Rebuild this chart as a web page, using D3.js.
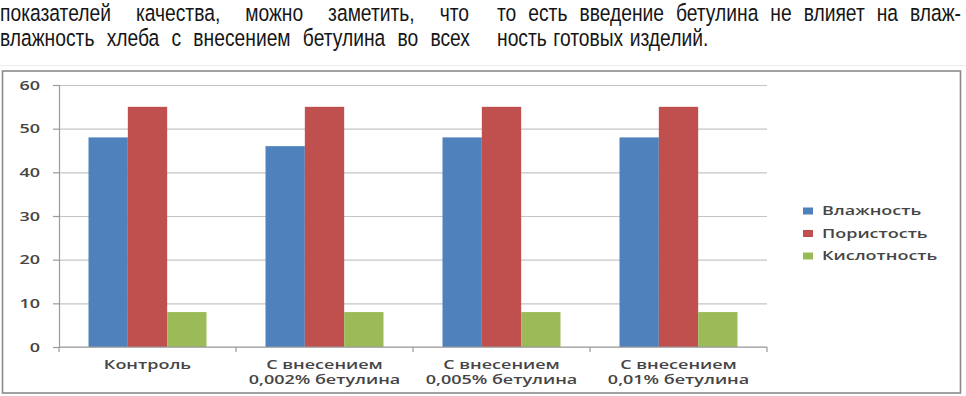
<!DOCTYPE html>
<html lang="ru">
<head>
<meta charset="UTF-8">
<title>Бетулин</title>
<script src="https://d3js.org/d3.v7.min.js"></script>
<style>
  body { margin: 0; background: #fff; }
  svg { display: block; }
</style>
</head>
<body>
<script>
// page text above the chart (two justified columns)
const leftLines = ["показателей качества, можно заметить, что", "влажность хлеба с внесением бетулина во всех"];
const rightLines = ["то есть введение бетулина не влияет на влаж-", "ность готовых изделий."];

// chart data
const categories = [["Контроль"], ["С внесением", "0,002% бетулина"], ["С внесением", "0,005% бетулина"], ["С внесением", "0,01% бетулина"]];
const seriesNames = ["Влажность", "Пористость", "Кислотность"];
const vlazhnost = [48, 46, 48, 48];
const poristost = [55, 55, 55, 55];
const kislotnost = [8, 8, 8, 8];
const yTicks = [0, 10, 20, 30, 40, 50, 60];
const colors = ["#4f81bd", "#c0504d", "#9bbb59"];

const W = 966, H = 396;
const svg = d3.select("body").append("svg").attr("width", W).attr("height", H);

// ---- top text ----
const sxText = 0.82;
const txt = svg.append("g").attr("transform", `scale(${sxText},1)`)
  .style("font-family", "'Liberation Sans', Arial, sans-serif")
  .style("font-size", "23.5px").style("fill", "#161616");

function putLine(words, x0, x1, baseline, justify) {
  const ws = words.split(" ");
  const nodes = ws.map(w => txt.append("text").attr("y", baseline).text(w));
  const widths = nodes.map(n => n.node().getComputedTextLength());
  const total = d3.sum(widths);
  const span = (x1 - x0) / sxText;
  let gap = justify ? (span - total) / (ws.length - 1) : 6.5 / sxText;
  let xx = x0 / sxText;
  nodes.forEach((n, i) => { n.attr("x", xx); xx += widths[i] + gap; });
}
putLine(leftLines[0], 0, 469, 21.5, true);
putLine(leftLines[1], 0, 470, 46, true);
putLine(rightLines[0], 497, 961, 21.5, true);
putLine(rightLines[1], 497, 718, 46, false);

// faint page line
svg.append("line").attr("x1", 0).attr("x2", W).attr("y1", 65.5).attr("y2", 65.5)
  .attr("stroke", "#ececec").attr("stroke-width", 1);

// chart border
svg.append("rect").attr("x", 2.5).attr("y", 71).attr("width", 958).attr("height", 322)
  .attr("fill", "#fff").attr("stroke", "#8a8a8a").attr("stroke-width", 1.6);

// ---- chart ----
const plotL = 59, plotR = 767, plotT = 85, plotB = 347;
const x = d3.scaleBand().domain(d3.range(categories.length)).range([plotL, plotR]).padding(0);
const x1 = d3.scaleBand().domain(seriesNames).range([0, x.bandwidth()]).paddingInner(0).paddingOuter(0.75);
const y = d3.scaleLinear().domain([0, 60]).range([plotB, plotT]);

const sx = 1.5; // chart text is stretched wide
const chartFont = "'Open Sans', 'DejaVu Sans', sans-serif";
const textColor = "#454545";

// gridlines
const grid = svg.append("g").attr("transform", `translate(${plotL},0)`)
  .call(d3.axisLeft(y).tickValues(yTicks).tickSize(-(plotR - plotL)).tickFormat(""));
grid.select(".domain").remove();
grid.selectAll(".tick line").attr("stroke", "#c4c4c4").attr("stroke-width", 1.2);

// y axis with labels
const yAx = svg.append("g").attr("transform", `translate(${plotL},0)`)
  .call(d3.axisLeft(y).tickValues(yTicks).tickSize(6).tickPadding(13));
yAx.select(".domain").attr("stroke", "#9a9a9a").attr("stroke-width", 1.2);
yAx.selectAll(".tick line").attr("stroke", "#9a9a9a").attr("stroke-width", 1.2);
yAx.selectAll(".tick text").each(function () {
  const t = d3.select(this);
  const xx = +t.attr("x");
  t.attr("x", 0).attr("transform", `translate(${xx},0) scale(${sx},1)`);
}).style("font-family", chartFont).style("font-size", "12px").style("font-weight", 600)
  .attr("fill", textColor).attr("dy", "0.36em");

// bars
const series = [vlazhnost, poristost, kislotnost];
series.forEach((vals, si) => {
  svg.append("g").selectAll("rect").data(vals).join("rect")
    .attr("x", (d, i) => x(i) + x1(seriesNames[si]))
    .attr("y", d => y(d))
    .attr("width", x1.bandwidth())
    .attr("height", d => y(0) - y(d))
    .attr("fill", colors[si]);
});

// x axis line and ticks at category boundaries
const xa = svg.append("g");
xa.append("line").attr("x1", plotL).attr("x2", plotR).attr("y1", y(0)).attr("y2", y(0))
  .attr("stroke", "#9a9a9a").attr("stroke-width", 1.2);
const bounds = d3.range(categories.length).map(i => x(i)).concat([x(categories.length - 1) + x.bandwidth()]);
xa.selectAll(".xt").data(bounds).join("line").attr("class", "xt")
  .attr("x1", d => d).attr("x2", d => d).attr("y1", y(0)).attr("y2", y(0) + 5)
  .attr("stroke", "#9a9a9a").attr("stroke-width", 1.2);

// category labels
categories.forEach((lines, i) => {
  lines.forEach((ln, j) => {
    svg.append("text")
      .attr("transform", `translate(${x(i) + x.bandwidth() / 2},${368.5 + j * 15.5}) scale(${sx},1)`)
      .attr("text-anchor", "middle")
      .style("font-family", chartFont).style("font-size", "12px").style("font-weight", 600)
      .attr("fill", textColor).text(ln);
  });
});

// legend
const lg = svg.append("g");
seriesNames.forEach((name, i) => {
  const cy = 211 + i * 22.5;
  lg.append("rect").attr("x", 803).attr("y", cy - 3.5).attr("width", 10).attr("height", 7).attr("fill", colors[i]);
  lg.append("text").attr("transform", `translate(822,${cy + 4.3}) scale(${sx},1)`)
    .style("font-family", chartFont).style("font-size", "12px").style("font-weight", 600)
    .attr("fill", textColor).text(name);
});
</script>
</body>
</html>
